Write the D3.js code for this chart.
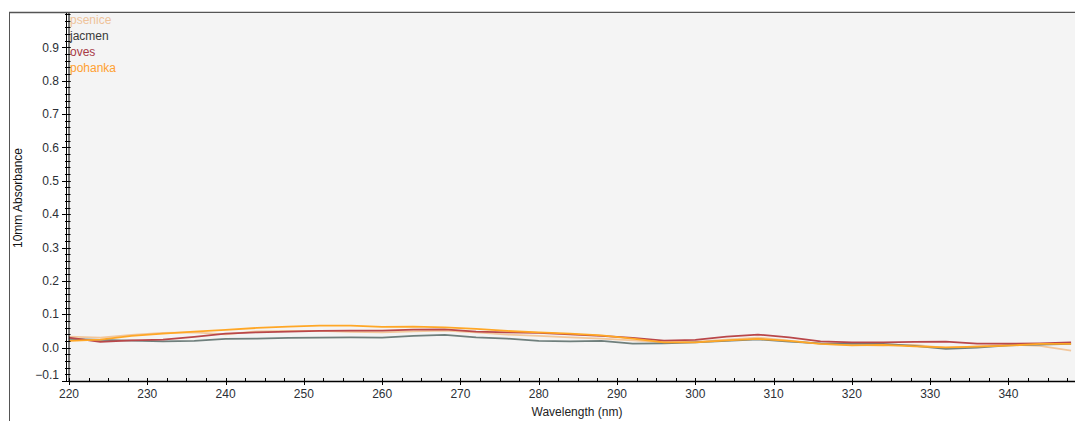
<!DOCTYPE html>
<html>
<head>
<meta charset="utf-8">
<script src="https://cdn.jsdelivr.net/npm/d3@7"></script>
<style>
  body { margin: 0; background: #fff; }
  svg { display: block; font-family: "Liberation Sans", Arial, sans-serif; }
</style>
</head>
<body>
<div id="chart"></div>
<script>
// wavelength grid (nm)
const wavelengths = [220, 224, 228, 232, 236, 240, 244, 248, 252, 256, 260, 264, 268, 272, 276, 280, 284,
    288, 292, 296, 300, 304, 308, 312, 316, 320, 324, 328, 332, 336, 340, 344, 348];

// absorbance per sample
const psenice = [0.033, 0.030, 0.038, 0.044, 0.046, 0.040, 0.049, 0.050, 0.050, 0.047, 0.046, 0.049, 0.051,
    0.046, 0.039, 0.035, 0.031, 0.027, 0.022, 0.016, 0.018, 0.024, 0.030, 0.021, 0.011, 0.008, 0.006, 0.008,
    -0.001, 0.004, 0.009, 0.005, -0.009];
const jacmen = [0.026, 0.023, 0.021, 0.019, 0.020, 0.026, 0.027, 0.029, 0.030, 0.031, 0.030, 0.035, 0.038,
    0.031, 0.027, 0.020, 0.019, 0.020, 0.012, 0.013, 0.016, 0.020, 0.025, 0.018, 0.013, 0.012, 0.011, 0.005,
    -0.004, 0.000, 0.007, 0.009, 0.011];
const oves = [0.030, 0.017, 0.022, 0.024, 0.032, 0.042, 0.046, 0.048, 0.050, 0.051, 0.051, 0.054, 0.055,
    0.048, 0.046, 0.044, 0.040, 0.035, 0.029, 0.021, 0.023, 0.033, 0.039, 0.031, 0.019, 0.016, 0.016, 0.017,
    0.018, 0.012, 0.012, 0.013, 0.016];
const pohanka = [0.020, 0.024, 0.035, 0.042, 0.048, 0.053, 0.059, 0.063, 0.066, 0.066, 0.062, 0.063, 0.061,
    0.056, 0.050, 0.046, 0.042, 0.037, 0.027, 0.016, 0.016, 0.022, 0.026, 0.020, 0.011, 0.007, 0.008, 0.004,
    0.001, 0.003, 0.006, 0.011, 0.011];

const seriesNames = ["psenice", "jacmen", "oves", "pohanka"];
const seriesValues = [psenice, jacmen, oves, pohanka];
const lineColors = ["#f2c79c", "#6f7f7c", "#b9474a", "#ffa726"];
const legendColors = ["#efc39a", "#3a3a3a", "#a83a46", "#ffa030"];

const xTicks = [220, 230, 240, 250, 260, 270, 280, 290, 300, 310, 320, 330, 340];
const yTicks = [-0.1, 0.0, 0.1, 0.2, 0.3, 0.4, 0.5, 0.6, 0.7, 0.8, 0.9];

const W = 1075, H = 421;
const plotLeft = 69, plotRight = 1075, plotTop = 14, plotBottom = 381;

const x = d3.scaleLinear().domain([220, 348.5]).range([plotLeft, plotRight]);
const y = d3.scaleLinear().domain([-0.1, 1.0]).range([plotBottom, plotTop]);

const svg = d3.select("#chart").append("svg")
    .attr("width", W)
    .attr("height", H);

// outer frame
svg.append("line").attr("x1", 9.5).attr("x2", 9.5).attr("y1", 12).attr("y2", H)
    .attr("stroke", "#555").attr("stroke-width", 1);
svg.append("line").attr("x1", 9).attr("x2", W).attr("y1", 12.5).attr("y2", 12.5)
    .attr("stroke", "#555").attr("stroke-width", 1.5);

// plot background
svg.append("rect")
    .attr("x", plotLeft).attr("y", 13)
    .attr("width", plotRight - plotLeft).attr("height", plotBottom - 13)
    .attr("fill", "#f4f4f4");

// lines
const line = d3.line()
    .x((d, i) => x(wavelengths[i]))
    .y(d => y(d));

const plot = svg.append("g");
plot.selectAll("path.series")
    .data(seriesValues)
    .enter()
    .append("path")
    .attr("class", "series")
    .attr("fill", "none")
    .attr("stroke", (d, i) => lineColors[i])
    .attr("stroke-width", 1.8)
    .attr("d", d => line(d));

// y axis (double line with ticks across)
const yAxis = svg.append("g").attr("class", "axis axis--y");
yAxis.append("line").attr("x1", 66.5).attr("x2", 66.5).attr("y1", 13).attr("y2", plotBottom)
    .attr("stroke", "#000");
yAxis.append("line").attr("x1", 69).attr("x2", 69).attr("y1", 13).attr("y2", plotBottom)
    .attr("stroke", "#000");

const yMinor = d3.range(-0.1, 1.0001, 0.02).map(v => +v.toFixed(2));
yAxis.selectAll(".minor")
    .data(yMinor)
    .enter()
    .append("line")
    .attr("x1", 65).attr("x2", 70.5)
    .attr("y1", d => Math.round(y(d)) + 0.5)
    .attr("y2", d => Math.round(y(d)) + 0.5)
    .attr("stroke", "#000");
yAxis.selectAll(".major")
    .data(yTicks)
    .enter()
    .append("line")
    .attr("x1", 62).attr("x2", 70.5)
    .attr("y1", d => Math.round(y(d)) + 0.5)
    .attr("y2", d => Math.round(y(d)) + 0.5)
    .attr("stroke", "#000");
yAxis.selectAll("text")
    .data(yTicks)
    .enter()
    .append("text")
    .attr("x", 59)
    .attr("y", d => Math.min(y(d), plotBottom - 6))
    .attr("dy", "0.35em")
    .attr("text-anchor", "end")
    .attr("font-size", 12)
    .attr("fill", "#2b2f36")
    .text(d => d3.format(".1f")(d));

// x axis
const xAxis = svg.append("g").attr("class", "axis axis--x");
xAxis.append("line").attr("x1", plotLeft).attr("x2", plotRight).attr("y1", plotBottom + 0.5).attr("y2", plotBottom + 0.5)
    .attr("stroke", "#000").attr("stroke-width", 1.5);
const xMinor = d3.range(220, 348.5, 2.5);
xAxis.selectAll(".minor")
    .data(xMinor)
    .enter()
    .append("line")
    .attr("x1", d => Math.round(x(d)) + 0.5)
    .attr("x2", d => Math.round(x(d)) + 0.5)
    .attr("y1", plotBottom - 3).attr("y2", plotBottom)
    .attr("stroke", "#000");
xAxis.selectAll(".major")
    .data(xTicks)
    .enter()
    .append("line")
    .attr("x1", d => Math.round(x(d)) + 0.5)
    .attr("x2", d => Math.round(x(d)) + 0.5)
    .attr("y1", plotBottom - 3).attr("y2", plotBottom + 4)
    .attr("stroke", "#000");
xAxis.selectAll("text")
    .data(xTicks)
    .enter()
    .append("text")
    .attr("x", d => x(d))
    .attr("y", 398)
    .attr("text-anchor", "middle")
    .attr("font-size", 12)
    .attr("fill", "#2b2f36")
    .text(d => d);

// axis titles
svg.append("text")
    .attr("transform", "translate(22,198) rotate(-90)")
    .attr("text-anchor", "middle")
    .attr("font-size", 12)
    .attr("fill", "#111")
    .text("10mm Absorbance");

svg.append("text")
    .attr("x", 577)
    .attr("y", 416)
    .attr("text-anchor", "middle")
    .attr("font-size", 12)
    .attr("fill", "#222")
    .text("Wavelength (nm)");

// legend
svg.append("g").selectAll("text")
    .data(seriesNames)
    .enter()
    .append("text")
    .attr("x", 70)
    .attr("y", (d, i) => 24 + i * 16)
    .attr("font-size", 12)
    .attr("fill", (d, i) => legendColors[i])
    .text(d => d);
</script>
</body>
</html>
